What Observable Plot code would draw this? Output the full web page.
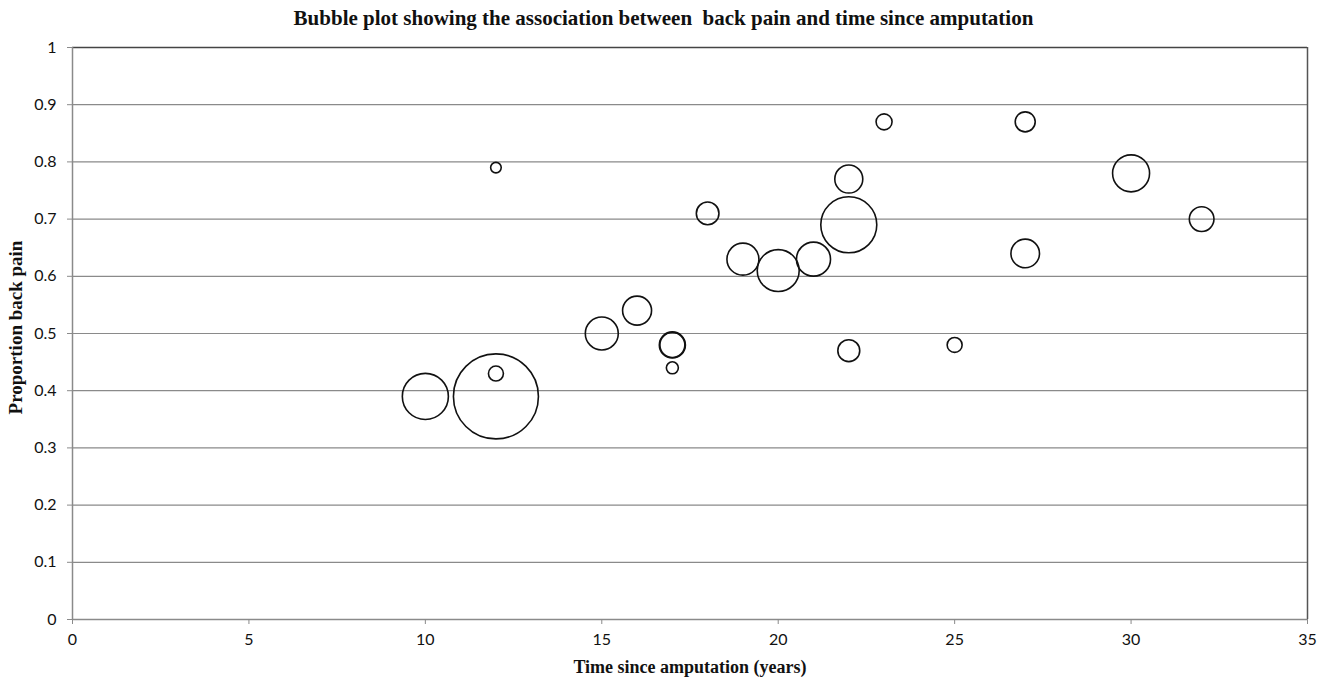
<!DOCTYPE html>
<html>
<head>
<meta charset="utf-8">
<script src="https://cdn.jsdelivr.net/npm/d3@7"></script>
<script src="https://cdn.jsdelivr.net/npm/@observablehq/plot@0.6"></script>
<style>
  html, body { margin: 0; padding: 0; background: #fff; }
  #title {
    width: 1327px; height: 36px; line-height: 36px; text-align: center;
    font-family: "Liberation Serif", "DejaVu Serif", serif; font-weight: bold;
    font-size: 21px; color: #111; white-space: pre;
  }
</style>
</head>
<body>
<div id="title">Bubble plot showing the association between  back pain and time since amputation</div>
<div id="chart"></div>
<script>
// Time since amputation (years)
const years = [10, 12, 12, 12, 15, 16, 17, 17, 17, 18, 19, 20, 21, 22, 22, 22, 23, 25, 27, 27, 30, 32];
// Proportion with back pain
const proportion = [0.39, 0.39, 0.43, 0.79, 0.50, 0.54, 0.48, 0.48, 0.44, 0.71, 0.63, 0.61, 0.63, 0.69, 0.77, 0.47, 0.87, 0.48, 0.87, 0.64, 0.78, 0.70];
// Relative bubble size (study sample size, estimated)
const sampleSize = [265, 903, 28, 14, 136, 105, 85, 78, 18, 64, 128, 220, 145, 392, 98, 60, 32, 28, 50, 102, 171, 76];

const xTicks = [0, 5, 10, 15, 20, 25, 30, 35];
const yTicks = [0, 0.1, 0.2, 0.3, 0.4, 0.5, 0.6, 0.7, 0.8, 0.9, 1];
const xLabel = "Time since amputation (years)";
const yLabel = "Proportion back pain";

const data = years.map((x, i) => ({x, y: proportion[i], n: sampleSize[i]}));

const tickFont = "Lato, 'Open Sans', sans-serif";
const labelFont = "'Liberation Serif', 'DejaVu Serif', serif";

const chart = Plot.plot({
  width: 1327,
  height: 644,
  marginLeft: 72,
  marginRight: 20,
  marginTop: 11,
  marginBottom: 61,
  style: {background: "#fff", overflow: "visible"},
  x: {domain: [0, 35]},
  y: {domain: [0, 1]},
  r: {type: "sqrt", domain: [0, 903], range: [0, 42.5]},
  marks: [
    Plot.gridY(yTicks.filter(d => d > 0 && d < 1), {stroke: "#8a8a8a", strokeOpacity: 1, strokeWidth: 1.2}),
    Plot.ruleY([1], {stroke: "#444", strokeWidth: 1.5}),
    Plot.ruleX([35], {stroke: "#555", strokeWidth: 1.5}),
    Plot.ruleX([0], {stroke: "#8a8a8a", strokeWidth: 1.5}),
    Plot.ruleY([0], {stroke: "#8a8a8a", strokeWidth: 1.5}),
    Plot.axisX(xTicks, {
      tickSize: 5, tickPadding: 9, stroke: "#8a8a8a", label: null,
      fontFamily: tickFont, fontSize: 16, fill: "#111",
      tickFormat: d => String(d)
    }),
    Plot.axisY(yTicks, {
      tickSize: 5, tickPadding: 11, stroke: "#8a8a8a", label: null,
      fontFamily: tickFont, fontSize: 16, fill: "#111",
      tickFormat: d => String(+d.toFixed(1))
    }),
    Plot.dot(data, {
      x: "x", y: "y", r: "n",
      fill: "none", stroke: "#111", strokeWidth: 1.6
    }),
    Plot.text([xLabel], {
      frameAnchor: "bottom", dy: 53, text: d => d,
      fontFamily: labelFont, fontWeight: "bold", fontSize: 18, fill: "#111"
    }),
    Plot.text([yLabel], {
      frameAnchor: "left", textAnchor: "middle", dx: -57, dy: -6, rotate: -90, text: d => d,
      fontFamily: labelFont, fontWeight: "bold", fontSize: 19, fill: "#111"
    })
  ]
});
document.getElementById("chart").appendChild(chart);
</script>
</body>
</html>
